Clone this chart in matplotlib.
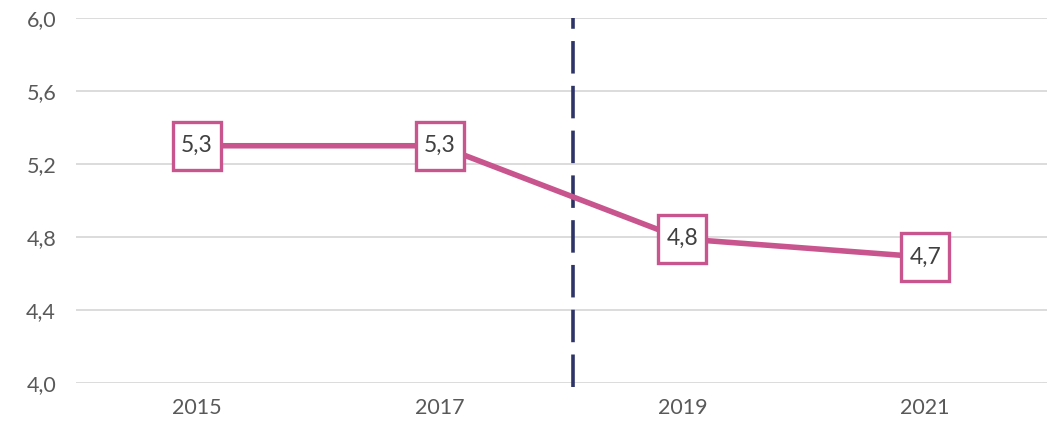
import matplotlib.pyplot as plt

# ── Data ──────────────────────────────────────────────────────────────────────
years = ["2015", "2017", "2019", "2021"]
values = [5.3, 5.3, 4.79, 4.69]
y_ticks = [4.0, 4.4, 4.8, 5.2, 5.6, 6.0]
break_pos = 1.55  # dashed separator between 2017 and 2019

LINE = "#C9558F"
NAVY = "#2E3468"
TEXT = "#595959"
GRID = "#D9D9D9"

plt.rcParams["font.family"] = ["Lato", "DejaVu Sans"]

fig = plt.figure(figsize=(10.56, 4.28), dpi=100)
ax = fig.add_axes([75.5 / 1056, 1 - 383 / 428, 971 / 1056, 365 / 428])

x = list(range(len(years)))
ax.plot(x, values, color=LINE, lw=4, zorder=3, solid_capstyle="butt")
ax.plot(x, values, ls="none", marker="s", ms=34, mfc="white", mec=LINE,
        mew=2.4, zorder=4)
for xi, v in zip(x, values):
    ax.text(xi, v, f"{v:.1f}".replace(".", ","), ha="center", va="center",
            fontsize=16.5, color="#404040", zorder=5)

ax.axvline(break_pos, color=NAVY, lw=2.6, dashes=(9, 3.4), zorder=2,
           ymin=-0.01, ymax=1.0, clip_on=False)

ax.set_xlim(-0.5, len(years) - 0.5)
ax.set_ylim(4.0, 6.0)
ax.set_xticks(x)
ax.set_xticklabels(years)
ax.set_yticks(y_ticks)
ax.set_yticklabels([f"{t:.1f}".replace(".", ",") for t in y_ticks])
ax.tick_params(length=0, labelsize=15.5, colors=TEXT, pad=11)
ax.tick_params(axis="y", pad=14)
ax.grid(axis="y", color=GRID, lw=1.3, zorder=0)
ax.set_axisbelow(True)
for s in ax.spines.values():
    s.set_visible(False)

fig.savefig("out.png", dpi=100)
